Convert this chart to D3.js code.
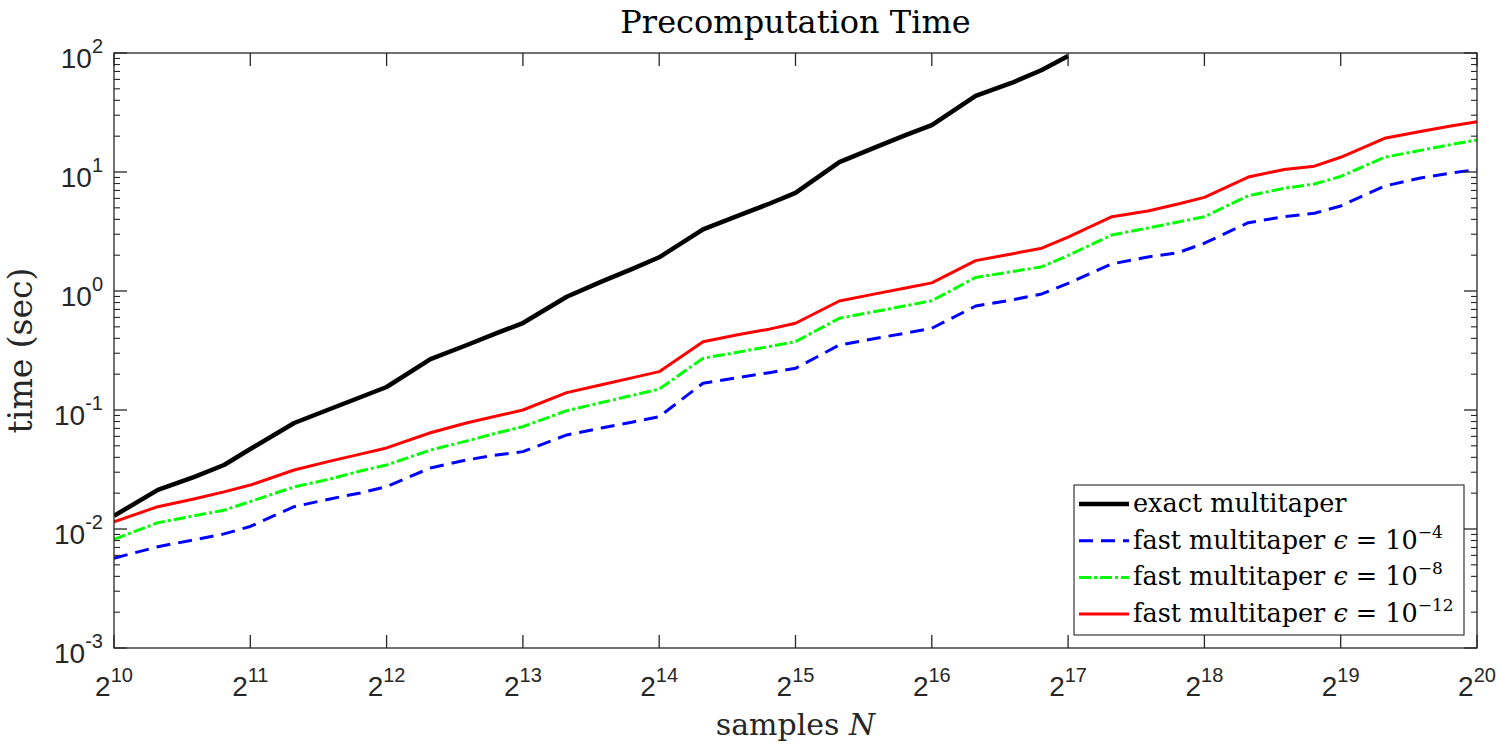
<!DOCTYPE html>
<html>
<head>
<meta charset="utf-8">
<script src="https://cdn.jsdelivr.net/npm/d3@7"></script>
<style>
  body { margin: 0; background: #fff; }
  svg { display: block; }
</style>
</head>
<body>
<div id="chart"></div>
<script>
// Set up SVG
var svgWidth = 1500;
var svgHeight = 750;

var margin = { top: 53, right: 23, bottom: 102, left: 114 };
var width = svgWidth - margin.left - margin.right;
var height = svgHeight - margin.top - margin.bottom;

// Data: samples N and timings (sec)
var samplesN = [1024, 1280, 1536, 1792, 2048, 2560, 3072, 3584, 4096, 5120, 6144, 7168,
  8192, 10240, 12288, 14336, 16384, 20480, 24576, 28672, 32768, 40960, 49152, 57344,
  65536, 81920, 98304, 114688, 131072, 163840, 196608, 229376, 262144, 327680, 393216,
  458752, 524288, 655360, 786432, 917504, 1048576];

var exactTimes = [0.0129, 0.0213, 0.0273, 0.0345, 0.047, 0.0778, 0.102, 0.128, 0.156,
  0.268, 0.35, 0.442, 0.538, 0.895, 1.21, 1.54, 1.92, 3.3, 4.32, 5.41, 6.67, 12.1,
  16.1, 20.4, 24.8, 43.6, 56.0, 72.0, 94.3];

var fast4Times = [0.00568, 0.0071, 0.0081, 0.0091, 0.0105, 0.0154, 0.0179, 0.0201,
  0.0227, 0.0326, 0.038, 0.0419, 0.0447, 0.0617, 0.0709, 0.0793, 0.0879, 0.168, 0.188,
  0.206, 0.224, 0.352, 0.399, 0.443, 0.486, 0.748, 0.84, 0.944, 1.16, 1.69, 1.93, 2.1,
  2.52, 3.75, 4.21, 4.5, 5.18, 7.62, 8.91, 9.8, 10.5];

var fast8Times = [0.00819, 0.0113, 0.0129, 0.0144, 0.017, 0.0226, 0.0263, 0.0307,
  0.0345, 0.0461, 0.0548, 0.0641, 0.0724, 0.0987, 0.116, 0.133, 0.15, 0.272, 0.307,
  0.341, 0.375, 0.59, 0.673, 0.751, 0.828, 1.3, 1.45, 1.6, 1.99, 2.96, 3.38, 3.8, 4.21,
  6.32, 7.3, 7.93, 9.17, 13.3, 15.2, 17.0, 18.6];

var fast12Times = [0.0115, 0.0154, 0.0179, 0.0205, 0.0234, 0.0313, 0.0372, 0.0426,
  0.048, 0.0644, 0.0778, 0.089, 0.1, 0.14, 0.164, 0.187, 0.21, 0.375, 0.431, 0.478,
  0.536, 0.824, 0.946, 1.06, 1.17, 1.8, 2.05, 2.29, 2.84, 4.21, 4.7, 5.38, 6.12, 9.07,
  10.5, 11.2, 13.3, 19.2, 21.9, 24.4, 26.5];

var xTickExps = [10, 11, 12, 13, 14, 15, 16, 17, 18, 19, 20];
var yTickExps = [-3, -2, -1, 0, 1, 2];

var seriesList = [
  { label: "exact multitaper", eps: null, values: exactTimes, color: "#000000", width: 4.5, dash: null },
  { label: "fast multitaper ", eps: "\u22124", values: fast4Times, color: "#0000ff", width: 3, dash: "14,8" },
  { label: "fast multitaper ", eps: "\u22128", values: fast8Times, color: "#00ff00", width: 3, dash: "12,3,3,3" },
  { label: "fast multitaper ", eps: "\u221212", values: fast12Times, color: "#ff0000", width: 3, dash: null }
];

var axisColor = "#262626";
var sansFont = "'Liberation Sans', Arial, Helvetica, sans-serif";
var serifFont = "'DejaVu Serif', 'Liberation Serif', serif";

// SVG Wrapper
var svg = d3.select("#chart")
  .append("svg")
  .attr("width", svgWidth)
  .attr("height", svgHeight);

var chartGroup = svg.append("g")
  .attr("transform", `translate(${margin.left}, ${margin.top})`);

// scales
var xLogScale = d3.scaleLog().base(2)
  .domain([Math.pow(2, 10), Math.pow(2, 20)])
  .range([0, width]);

var yLogScale = d3.scaleLog()
  .domain([1e-3, 1e2])
  .range([height, 0]);

// clip so lines stay in the box
chartGroup.append("clipPath").attr("id", "clip")
  .append("rect").attr("width", width).attr("height", height);

// lines
var lineGen = d3.line()
  .x((d, i) => xLogScale(samplesN[i]))
  .y(d => yLogScale(d));

var linesGroup = chartGroup.append("g").attr("clip-path", "url(#clip)");
seriesList.forEach(function(s) {
  linesGroup.append("path")
    .datum(s.values)
    .attr("fill", "none")
    .attr("stroke", s.color)
    .attr("stroke-width", s.width)
    .attr("stroke-linejoin", "round")
    .attr("stroke-dasharray", s.dash)
    .attr("d", lineGen);
});

// box
chartGroup.append("rect")
  .attr("width", width).attr("height", height)
  .attr("fill", "none").attr("stroke", axisColor).attr("stroke-width", 1.3);

// x ticks (bottom + top, inward)
var majorLen = 13, minorLen = 6;
xTickExps.forEach(function(k) {
  var x = xLogScale(Math.pow(2, k));
  chartGroup.append("line").attr("x1", x).attr("x2", x)
    .attr("y1", height).attr("y2", height - majorLen)
    .attr("stroke", axisColor).attr("stroke-width", 1.3);
  chartGroup.append("line").attr("x1", x).attr("x2", x)
    .attr("y1", 0).attr("y2", majorLen)
    .attr("stroke", axisColor).attr("stroke-width", 1.3);
  var t = chartGroup.append("text")
    .attr("x", x).attr("y", height + 48)
    .attr("text-anchor", "middle")
    .attr("font-family", sansFont)
    .attr("font-size", 28)
    .attr("fill", axisColor);
  t.append("tspan").text("2");
  t.append("tspan").attr("dy", -14).attr("font-size", 20).text(k);
});

// y ticks, major + minor, left + right
yTickExps.forEach(function(k) {
  var y = yLogScale(Math.pow(10, k));
  [[0, majorLen], [width, width - majorLen]].forEach(function(p) {
    chartGroup.append("line").attr("x1", p[0]).attr("x2", p[1])
      .attr("y1", y).attr("y2", y)
      .attr("stroke", axisColor).attr("stroke-width", 1.3);
  });
  var t = chartGroup.append("text")
    .attr("x", -11).attr("y", y + 15)
    .attr("text-anchor", "end")
    .attr("font-family", sansFont)
    .attr("font-size", 28)
    .attr("fill", axisColor);
  t.append("tspan").text("10");
  t.append("tspan").attr("dy", -15).attr("font-size", 20).text(k < 0 ? "-" + (-k) : k);

  if (k < 2) {
    d3.range(2, 10).forEach(function(m) {
      var ym = yLogScale(m * Math.pow(10, k));
      [[0, minorLen], [width, width - minorLen]].forEach(function(p) {
        chartGroup.append("line").attr("x1", p[0]).attr("x2", p[1])
          .attr("y1", ym).attr("y2", ym)
          .attr("stroke", axisColor).attr("stroke-width", 1.1);
      });
    });
  }
});

// title and axis labels
svg.append("text")
  .attr("x", margin.left + width / 2).attr("y", 33)
  .attr("text-anchor", "middle")
  .attr("font-family", serifFont).attr("font-size", 32)
  .attr("fill", "#000")
  .text("Precomputation Time");

var xLabel = svg.append("text")
  .attr("x", margin.left + width / 2).attr("y", 735)
  .attr("text-anchor", "middle")
  .attr("font-family", serifFont).attr("font-size", 30)
  .attr("fill", "#262626");
xLabel.append("tspan").text("samples ");
xLabel.append("tspan").attr("font-style", "italic").text("N");

svg.append("text")
  .attr("transform", `translate(32, ${margin.top + height / 2}) rotate(-90)`)
  .attr("text-anchor", "middle")
  .attr("font-family", serifFont).attr("font-size", 33)
  .attr("fill", "#262626")
  .text("time (sec)");

// legend
var legend = svg.append("g").attr("transform", "translate(1074, 485)");
legend.append("rect")
  .attr("width", 390).attr("height", 150)
  .attr("fill", "#fff").attr("stroke", axisColor).attr("stroke-width", 1.1);

seriesList.forEach(function(s, i) {
  var ly = 19 + i * 36.7;
  legend.append("line")
    .attr("x1", 5).attr("x2", 55).attr("y1", ly).attr("y2", ly)
    .attr("stroke", s.color).attr("stroke-width", s.width)
    .attr("stroke-dasharray", s.dash);
  var t = legend.append("text")
    .attr("x", 59).attr("y", ly + 8)
    .attr("font-family", serifFont).attr("font-size", 25.5)
    .attr("fill", "#000");
  t.append("tspan").text(s.label);
  if (s.eps) {
    t.append("tspan").attr("font-style", "italic").text("\u03f5");
    t.append("tspan").text(" = 10");
    t.append("tspan").attr("dy", -11).attr("font-size", 17).text(s.eps);
  }
});
</script>
</body>
</html>
